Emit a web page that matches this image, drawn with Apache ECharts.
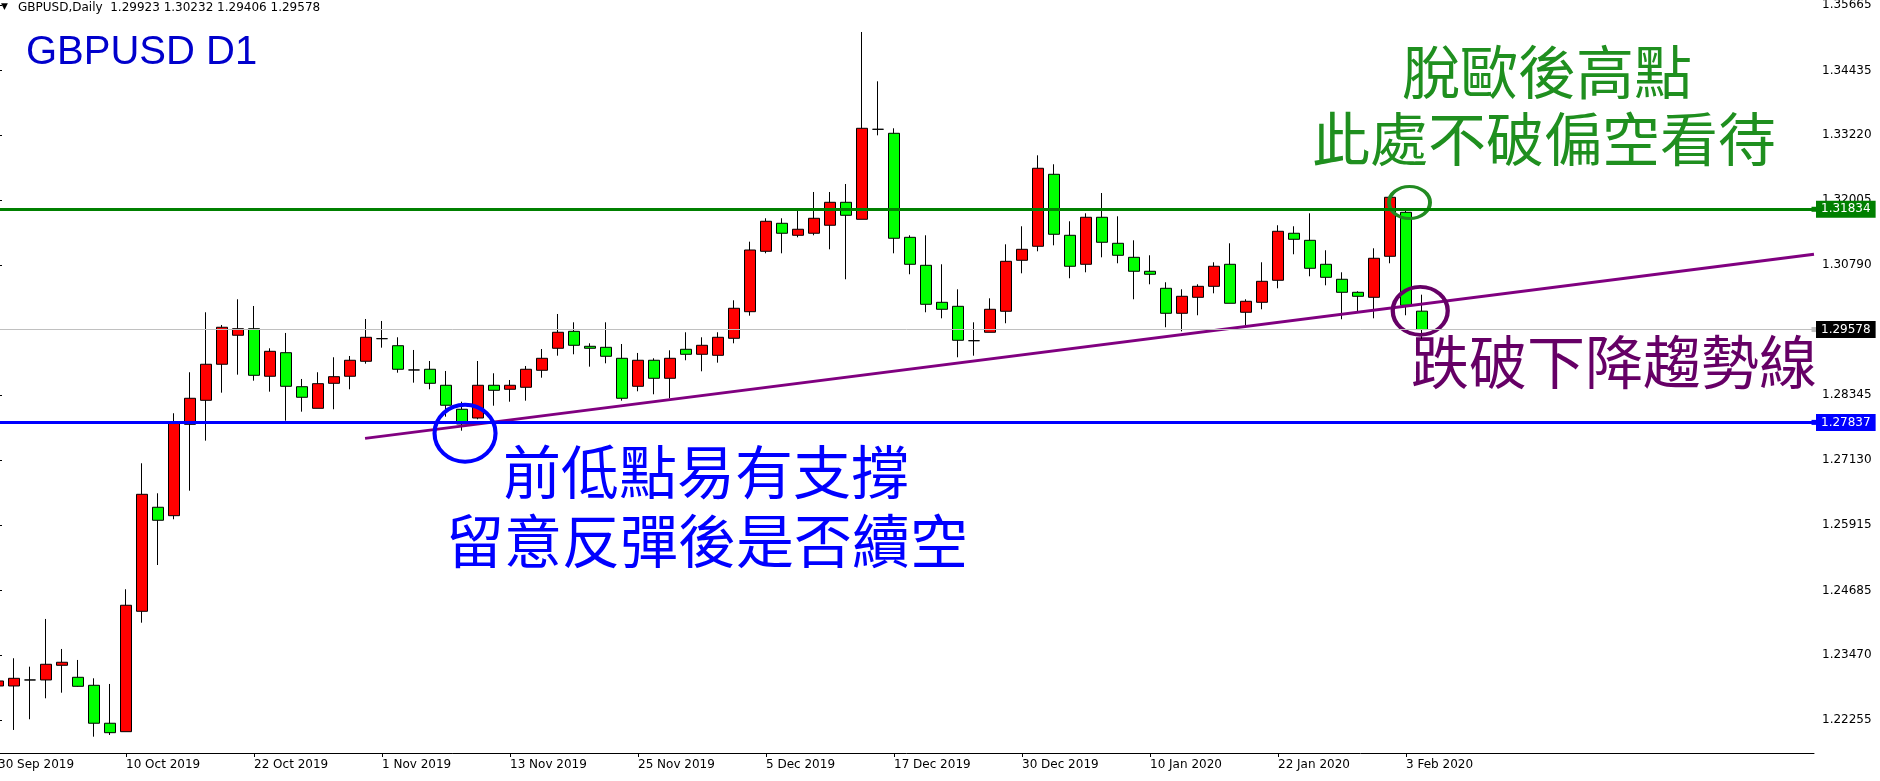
<!DOCTYPE html>
<html><head><meta charset="utf-8">
<script src="https://cdn.jsdelivr.net/npm/echarts@6/dist/echarts.min.js"></script>
<style>html,body{margin:0;padding:0;background:#fff;}#c{width:1880px;height:781px;}</style>
</head><body><div id="c"></div>
<script>
// ---- data ----
const dates = ['30 Sep 2019','1 Oct 2019','2 Oct 2019','3 Oct 2019','4 Oct 2019','7 Oct 2019','8 Oct 2019','9 Oct 2019','10 Oct 2019','11 Oct 2019',
 '14 Oct 2019','15 Oct 2019','16 Oct 2019','17 Oct 2019','18 Oct 2019','21 Oct 2019','22 Oct 2019','23 Oct 2019','24 Oct 2019','25 Oct 2019',
 '28 Oct 2019','29 Oct 2019','30 Oct 2019','31 Oct 2019','1 Nov 2019','4 Nov 2019','5 Nov 2019','6 Nov 2019','7 Nov 2019','8 Nov 2019',
 '11 Nov 2019','12 Nov 2019','13 Nov 2019','14 Nov 2019','15 Nov 2019','18 Nov 2019','19 Nov 2019','20 Nov 2019','21 Nov 2019','22 Nov 2019',
 '25 Nov 2019','26 Nov 2019','27 Nov 2019','28 Nov 2019','29 Nov 2019','2 Dec 2019','3 Dec 2019','4 Dec 2019','5 Dec 2019','6 Dec 2019',
 '9 Dec 2019','10 Dec 2019','11 Dec 2019','12 Dec 2019','13 Dec 2019','16 Dec 2019','17 Dec 2019','18 Dec 2019','19 Dec 2019','20 Dec 2019',
 '23 Dec 2019','24 Dec 2019','26 Dec 2019','27 Dec 2019','30 Dec 2019','31 Dec 2019','2 Jan 2020','3 Jan 2020','6 Jan 2020','7 Jan 2020',
 '8 Jan 2020','9 Jan 2020','10 Jan 2020','13 Jan 2020','14 Jan 2020','15 Jan 2020','16 Jan 2020','17 Jan 2020','20 Jan 2020','21 Jan 2020',
 '22 Jan 2020','23 Jan 2020','24 Jan 2020','27 Jan 2020','28 Jan 2020','29 Jan 2020','30 Jan 2020','31 Jan 2020','3 Feb 2020','4 Feb 2020'];

const opens = [1.22893,1.22893,1.23006,1.23006,1.23281,1.23056,1.22906,1.22194,1.22036,1.24294,
 1.26245,1.26087,1.27801,1.28251,1.28927,1.29471,1.29594,1.28702,1.29144,1.28506,
 1.28101,1.28570,1.28702,1.28983,1.29407,1.29275,1.28820,1.28833,1.28533,1.28083,
 1.27919,1.28533,1.28458,1.28495,1.28814,1.29227,1.29545,1.29264,1.29245,1.29039,
 1.28514,1.29002,1.28664,1.29208,1.29114,1.29095,1.29414,1.29913,1.31046,1.31571,
 1.31346,1.31384,1.31534,1.31965,1.31646,1.33334,1.33259,1.31308,1.30783,1.30089,
 1.30014,1.29369,1.29527,1.29921,1.30877,1.31140,1.32490,1.31346,1.30802,1.31684,
 1.31196,1.30933,1.30671,1.30352,1.29883,1.30183,1.30389,1.30802,1.29902,1.30089,
 1.30502,1.31384,1.31252,1.30802,1.30521,1.30277,1.30183,1.30952,1.31777,1.29923];
const highs = [1.23156,1.23413,1.23255,1.24150,1.23587,1.23381,1.23037,1.22931,1.24707,1.27070,
 1.26507,1.28008,1.28777,1.29902,1.29664,1.30146,1.30020,1.29227,1.29514,1.28651,
 1.28777,1.29058,1.29082,1.29776,1.29739,1.29433,1.29195,1.28988,1.28801,1.28225,
 1.28988,1.28758,1.28632,1.28895,1.29213,1.29870,1.29714,1.29320,1.29714,1.29307,
 1.29139,1.29039,1.29189,1.29527,1.29433,1.29527,1.30127,1.31226,1.31665,1.31665,
 1.31820,1.32158,1.32158,1.32308,1.35159,1.34234,1.33353,1.31346,1.31346,1.30802,
 1.30333,1.29714,1.30164,1.31177,1.31515,1.32846,1.32678,1.31609,1.31759,1.32139,
 1.31702,1.31252,1.30971,1.30465,1.30333,1.30427,1.30840,1.31196,1.30146,1.30840,
 1.31534,1.31515,1.31759,1.31065,1.30652,1.30296,1.31102,1.32096,1.31815,1.30232];
const lows = [1.22630,1.22068,1.22269,1.22662,1.22767,1.22880,1.21942,1.21974,1.22036,1.24080,
 1.25162,1.26020,1.26556,1.27494,1.28394,1.28732,1.28619,1.28413,1.27869,1.28038,
 1.28101,1.28083,1.28458,1.28938,1.29238,1.28769,1.28582,1.28458,1.27944,1.27681,
 1.27895,1.28150,1.28225,1.28244,1.28675,1.29088,1.29114,1.28882,1.28945,1.28244,
 1.28420,1.28364,1.28289,1.29002,1.28795,1.28957,1.29320,1.29838,1.31008,1.31008,
 1.31308,1.31346,1.31083,1.30521,1.31646,1.33221,1.31008,1.30615,1.29902,1.29789,
 1.29058,1.29088,1.29527,1.29696,1.30633,1.31046,1.31158,1.30540,1.30652,1.30933,
 1.30821,1.30146,1.30427,1.29621,1.29545,1.29846,1.30258,1.30071,1.29658,1.29958,
 1.30352,1.30990,1.30577,1.30408,1.29771,1.29902,1.29789,1.30821,1.29846,1.29406];
const closes = [1.22987,1.23037,1.23006,1.23300,1.23338,1.22887,1.22194,1.22017,1.24407,1.26488,
 1.26001,1.27839,1.28289,1.28927,1.29621,1.29594,1.28720,1.29170,1.28514,1.28308,
 1.28563,1.28694,1.29002,1.29433,1.29407,1.28833,1.28820,1.28570,1.28158,1.27807,
 1.28533,1.28439,1.28533,1.28833,1.29039,1.29527,1.29283,1.29227,1.29077,1.28289,
 1.29002,1.28664,1.29039,1.29114,1.29283,1.29433,1.29977,1.31070,1.31609,1.31384,
 1.31459,1.31665,1.31965,1.31721,1.33353,1.33334,1.31290,1.30802,1.30052,1.29958,
 1.29377,1.29369,1.29958,1.30858,1.31083,1.32603,1.31365,1.30765,1.31684,1.31215,
 1.30971,1.30671,1.30615,1.29883,1.30202,1.30389,1.30765,1.30071,1.30108,1.30483,
 1.31421,1.31271,1.30727,1.30558,1.30277,1.30202,1.30915,1.32059,1.30033,1.29578];

const yTickLabels = ['1.35665','1.34435','1.33220','1.32005','1.30790','1.28345','1.27130','1.25915','1.24685','1.23470','1.22255'];
const resistanceLevel = 1.31834;
const supportLevel = 1.27837;
const bidLevel = 1.29578;
const trendLine = [[22.94, 1.27537], [113.5, 1.30992]];
const blueCircle = [29.19, 1.27633];
const greenEllipse = [88.22, 1.31961];
const purpleCircle = [88.89, 1.29930];
const headerText = 'GBPUSD,Daily  1.29923 1.30232 1.29406 1.29578';
const titleText = 'GBPUSD D1';
const greenNote = ['脫歐後高點', '此處不破偏空看待'];
const purpleNote = '跌破下降趨勢線';
const blueNote = ['前低點易有支撐', '留意反彈後是否續空'];

// ---- layout constants ----
const totalSlots = 114;
const labelEvery = 8;
const yMin = 1.21636, yMax = 1.35759;

const categories = dates.concat(Array.from({length: totalSlots - dates.length}, (_, i) => '_pad' + i));
const showLabel = (index) => index % labelEvery === 0 && index < dates.length;
const candleData = dates.map((d, i) => [opens[i], closes[i], lows[i], highs[i]]);

const chart = echarts.init(document.getElementById('c'), null, {renderer: 'canvas'});
const axisFont = {fontFamily: 'DejaVu Sans', fontSize: 12, color: '#000'};
const cjk = '"Noto Sans CJK TC", "Noto Sans CJK SC", sans-serif';

function priceLabel(bg) {
  return {show: true, position: 'end', distance: 2, formatter: p => p.value.toFixed(5),
    backgroundColor: bg, color: '#fff', padding: [2, 5, 1, 5], fontSize: 12, fontFamily: 'DejaVu Sans', lineHeight: 14};
}
const ring = (color, width) => ({color: 'rgba(0,0,0,0)', borderColor: color, borderWidth: width, opacity: 1});

chart.setOption({
  animation: false,
  backgroundColor: '#fff',
  grid: {left: -10, right: 66, top: 0, bottom: 28, containLabel: false, outerBoundsMode: 'none'},
  xAxis: [{
    type: 'category', data: categories, boundaryGap: true,
    axisLine: {show: true, lineStyle: {color: '#000', width: 1}},
    axisTick: {show: true, alignWithLabel: true, interval: showLabel, length: 4, lineStyle: {color: '#000'}},
    axisLabel: Object.assign({interval: showLabel, align: 'left', margin: 6}, axisFont),
    splitLine: {show: false}
  }, {
    type: 'value', min: -0.5, max: totalSlots - 0.5, show: false
  }],
  yAxis: {
    type: 'value', position: 'right', min: yMin, max: yMax, scale: true,
    axisLine: {show: true, lineStyle: {color: '#000', width: 1}},
    axisTick: {show: true, length: 4, lineStyle: {color: '#000'}, customValues: yTickLabels.map(Number)},
    axisLabel: Object.assign({margin: 8, customValues: yTickLabels.map(Number), formatter: v => v.toFixed(5)}, axisFont),
    splitLine: {show: false}
  },
  series: [{
    type: 'candlestick', xAxisIndex: 0, data: candleData, barWidth: 11,
    itemStyle: {color: '#ff0000', color0: '#00ff00', borderColor: '#000', borderColor0: '#000', borderColorDoji: '#000', borderWidth: 1},
    emphasis: {disabled: true},
    markLine: {
      silent: true, symbol: ['rect', 'rect'], symbolSize: 5, precision: 5,
      data: [
        {yAxis: bidLevel, symbol: 'none', lineStyle: {color: '#c0c0c0', width: 1, type: 'solid'}, label: priceLabel('#000')},
        {yAxis: resistanceLevel, lineStyle: {color: '#008000', width: 3, type: 'solid'}, label: priceLabel('#008000')},
        {yAxis: supportLevel, lineStyle: {color: '#0000ff', width: 3, type: 'solid'}, label: priceLabel('#0000ff')}
      ]
    }
  }, {
    type: 'line', xAxisIndex: 1, data: trendLine, symbol: 'none', silent: true,
    lineStyle: {color: '#800080', width: 3}, z: 3
  }, {
    type: 'scatter', xAxisIndex: 1, silent: true, z: 4,
    itemStyle: {color: 'rgba(0,0,0,0)', opacity: 1},
    data: [
      {value: blueCircle, symbolSize: [61, 57], itemStyle: ring('#0000ff', 4)},
      {value: greenEllipse, symbolSize: [41, 32], itemStyle: ring('#228b22', 3.5)},
      {value: purpleCircle, symbolSize: [55, 48], itemStyle: ring('#660066', 4)}
    ]
  }],
  graphic: [
    {type: 'text', style: {x: 1, y: 7, text: '▼', fontSize: 9, fontFamily: 'DejaVu Sans', fill: '#000', textVerticalAlign: 'middle'}},
    {type: 'text', style: {x: 18, y: 8, text: headerText, fontSize: 12, fontFamily: 'DejaVu Sans', fill: '#000', textVerticalAlign: 'middle'}},
    {type: 'text', style: {x: 26, y: 53, text: titleText, fontSize: 40, fontFamily: '"Liberation Sans", Arial, sans-serif', fill: '#0000cc', textVerticalAlign: 'middle'}},
    {type: 'text', style: {x: 1547, y: 72, text: greenNote[0], fontSize: 58, fontFamily: cjk, fill: '#1f8f1f', textAlign: 'center', textVerticalAlign: 'middle'}},
    {type: 'text', style: {x: 1544, y: 139, text: greenNote[1], fontSize: 58, fontFamily: cjk, fill: '#1f8f1f', textAlign: 'center', textVerticalAlign: 'middle'}},
    {type: 'text', style: {x: 1614, y: 362, text: purpleNote, fontSize: 58, fontFamily: cjk, fill: '#660066', textAlign: 'center', textVerticalAlign: 'middle'}},
    {type: 'text', style: {x: 706, y: 472, text: blueNote[0], fontSize: 58, fontFamily: cjk, fill: '#0000ff', textAlign: 'center', textVerticalAlign: 'middle'}},
    {type: 'text', style: {x: 707, y: 541, text: blueNote[1], fontSize: 58, fontFamily: cjk, fill: '#0000ff', textAlign: 'center', textVerticalAlign: 'middle'}}
  ]
});
</script>
</body></html>
